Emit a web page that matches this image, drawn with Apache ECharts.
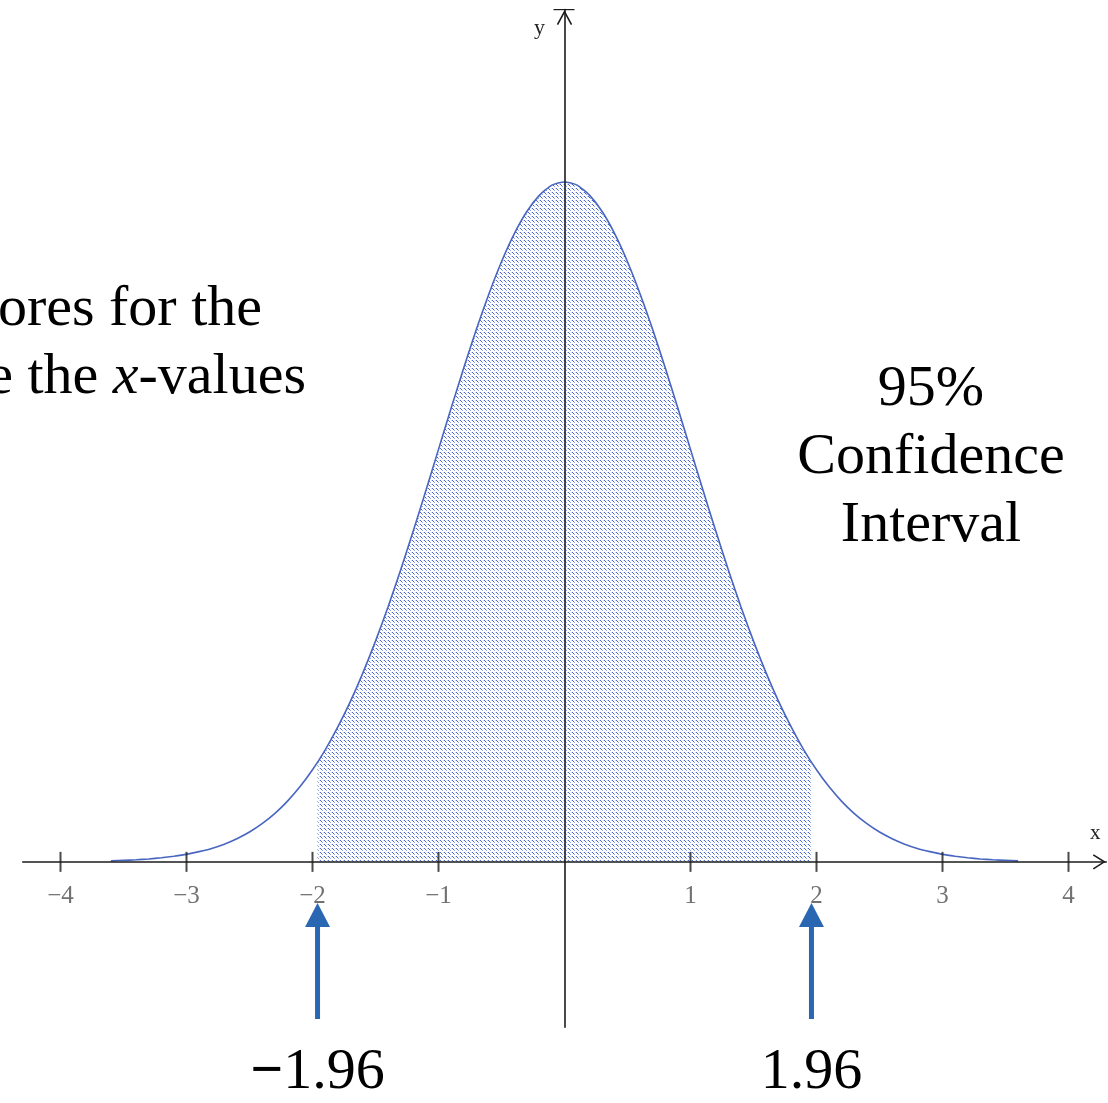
<!DOCTYPE html>
<html>
<head>
<meta charset="utf-8">
<script src="https://cdn.jsdelivr.net/npm/echarts@6/dist/echarts.min.js"></script>
<style>
  html, body { margin: 0; padding: 0; background: #ffffff; }
  #chart { width: 1108px; height: 1103px; }
</style>
</head>
<body>
<div id="chart"></div>
<script>
// Standard normal curve, z from -3.6 to 3.6
const zValues = [
  -3.6, -3.5, -3.4, -3.3, -3.2, -3.1, -3.0, -2.9, -2.8, -2.7, -2.6, -2.5,
  -2.4, -2.3, -2.2, -2.1, -2.0, -1.9, -1.8, -1.7, -1.6, -1.5, -1.4, -1.3,
  -1.2, -1.1, -1.0, -0.9, -0.8, -0.7, -0.6, -0.5, -0.4, -0.3, -0.2, -0.1,
  0.0,
  0.1, 0.2, 0.3, 0.4, 0.5, 0.6, 0.7, 0.8, 0.9, 1.0, 1.1, 1.2,
  1.3, 1.4, 1.5, 1.6, 1.7, 1.8, 1.9, 2.0, 2.1, 2.2, 2.3, 2.4,
  2.5, 2.6, 2.7, 2.8, 2.9, 3.0, 3.1, 3.2, 3.3, 3.4, 3.5, 3.6
];
const density = [
  0.0006, 0.0009, 0.0012, 0.0017, 0.0024, 0.0033, 0.0044, 0.0060, 0.0079, 0.0104, 0.0136, 0.0175,
  0.0224, 0.0283, 0.0355, 0.0440, 0.0540, 0.0656, 0.0790, 0.0940, 0.1109, 0.1295, 0.1497, 0.1714,
  0.1942, 0.2179, 0.2420, 0.2661, 0.2897, 0.3123, 0.3332, 0.3521, 0.3683, 0.3814, 0.3910, 0.3970,
  0.3989,
  0.3970, 0.3910, 0.3814, 0.3683, 0.3521, 0.3332, 0.3123, 0.2897, 0.2661, 0.2420, 0.2179, 0.1942,
  0.1714, 0.1497, 0.1295, 0.1109, 0.0940, 0.0790, 0.0656, 0.0540, 0.0440, 0.0355, 0.0283, 0.0224,
  0.0175, 0.0136, 0.0104, 0.0079, 0.0060, 0.0044, 0.0033, 0.0024, 0.0017, 0.0012, 0.0009, 0.0006
];

// 95% interval bounds and the curve height at those bounds
const ciBounds = [-1.96, 1.96];
const ciEdgeDensity = [0.0584, 0.0584];
const ciLabels = ['{m|\u2212}{n|1.96}', '{n|1.96}'];

// x-axis ticks
const tickValues = [-4, -3, -2, -1, 1, 2, 3, 4];
const tickLabels = ['\u22124', '\u22123', '\u22122', '\u22121', '1', '2', '3', '4'];

const curveData = zValues.map((z, i) => [z, density[i]]);
const shadeData = [[ciBounds[0], ciEdgeDensity[0]]]
  .concat(curveData.filter(p => p[0] > ciBounds[0] && p[0] < ciBounds[1]))
  .concat([[ciBounds[1], ciEdgeDensity[1]]]);

// dotted fill pattern
function makePattern() {
  const c = document.createElement('canvas');
  c.width = 4; c.height = 4;
  const ctx = c.getContext('2d');
  ctx.fillStyle = '#ffffff';
  ctx.fillRect(0, 0, 4, 4);
  ctx.fillStyle = 'rgba(60, 92, 200, 0.95)';
  ctx.fillRect(0, 0, 1, 1);
  ctx.fillRect(1, 1, 1, 1);
  ctx.fillStyle = 'rgba(60, 92, 200, 0.55)';
  ctx.fillRect(2, 2, 1, 1);
  ctx.fillStyle = 'rgba(60, 92, 200, 0.25)';
  ctx.fillRect(3, 0, 1, 1);
  return c;
}

const serif = '"Liberation Serif", "DejaVu Serif", serif';
const chart = echarts.init(document.getElementById('chart'), null, { renderer: 'canvas' });

const option = {
  animation: false,
  backgroundColor: '#ffffff',
  grid: { left: 22.7, right: 1.7, top: 9.6, bottom: 75.8, containLabel: false },
  xAxis: {
    type: 'value',
    min: -4.3,
    max: 4.3,
    z: 5,
    splitLine: { show: false },
    axisLine: { show: true, onZero: true, lineStyle: { color: '#1c1c1c', width: 1.6 } },
    axisTick: { show: false },
    axisLabel: { show: false }
  },
  yAxis: {
    type: 'value',
    min: -0.097,
    max: 0.5,
    z: 5,
    splitLine: { show: false },
    axisLine: { show: true, onZero: true, lineStyle: { color: '#1c1c1c', width: 1.6 } },
    axisTick: { show: false },
    axisLabel: { show: false }
  },
  series: [
    {
      name: 'interval',
      type: 'line',
      data: shadeData,
      smooth: 0.2,
      symbol: 'none',
      lineStyle: { width: 0 },
      areaStyle: { color: { image: makePattern(), repeat: 'repeat' }, opacity: 1 },
      z: 1
    },
    {
      name: 'density',
      type: 'line',
      data: curveData,
      smooth: 0.2,
      symbol: 'none',
      lineStyle: { color: '#4866c0', width: 1.6 },
      z: 3
    },
    {
      // tick marks crossing the x-axis, with their labels
      name: 'ticks',
      type: 'scatter',
      data: tickValues.map(v => [v, 0]),
      symbol: 'rect',
      symbolSize: [2, 20],
      itemStyle: { color: '#1c1c1c' },
      label: {
        show: true,
        position: 'bottom',
        distance: 12,
        fontFamily: serif,
        fontSize: 25,
        color: '#4e4e4e',
        formatter: p => tickLabels[p.dataIndex]
      },
      z: 6
    }
  ]
};
chart.setOption(option);

// annotations placed after the scales exist
const px = (x, y) => chart.convertToPixel({ gridIndex: 0 }, [x, y]);
const origin = px(0, 0);
const xEnd = px(4.3, 0);
const yTop = px(0, 0.5);
const arrowColor = '#2a67b2';
const big = '58px ' + serif;

const graphics = [
  // x-axis arrow head and name
  { type: 'polyline', z: 10, shape: { points: [[xEnd[0] - 13, origin[1] - 7], [xEnd[0] - 2, origin[1]], [xEnd[0] - 13, origin[1] + 7]] },
    style: { stroke: '#1c1c1c', lineWidth: 1.6, fill: null } },
  { type: 'text', z: 10, x: xEnd[0] - 11, y: origin[1] - 28,
    style: { text: 'x', font: '21px ' + serif, fill: '#222', textAlign: 'center', textVerticalAlign: 'middle' } },
  // y-axis arrow head, cap and name
  { type: 'polyline', z: 10, shape: { points: [[origin[0] - 7, yTop[1] + 15], [origin[0], yTop[1] + 2], [origin[0] + 7, yTop[1] + 15]] },
    style: { stroke: '#1c1c1c', lineWidth: 1.6, fill: null } },
  { type: 'line', z: 10, shape: { x1: origin[0] - 11, y1: yTop[1], x2: origin[0] + 10, y2: yTop[1] },
    style: { stroke: '#1c1c1c', lineWidth: 1.2 } },
  { type: 'text', z: 10, x: origin[0] - 25, y: yTop[1] + 19,
    style: { text: 'y', font: '22px ' + serif, fill: '#222', textAlign: 'center', textVerticalAlign: 'middle' } },
  // side notes
  { type: 'text', z: 10, x: 262, y: 310,
    style: { text: 'ores for the', font: big, fill: '#000', textAlign: 'right', textVerticalAlign: 'middle' } },
  { type: 'text', z: 10, x: 306, y: 378,
    style: {
      text: '{n|e the }{i|x}{n|-values}', textAlign: 'right', textVerticalAlign: 'middle',
      rich: {
        n: { font: big, fill: '#000' },
        i: { font: 'italic ' + big, fill: '#000' }
      }
    } },
  { type: 'text', z: 10, x: 931, y: 390,
    style: { text: '95%', font: big, fill: '#000', textAlign: 'center', textVerticalAlign: 'middle' } },
  { type: 'text', z: 10, x: 931, y: 458,
    style: { text: 'Confidence', font: big, fill: '#000', textAlign: 'center', textVerticalAlign: 'middle' } },
  { type: 'text', z: 10, x: 931, y: 526,
    style: { text: 'Interval', font: big, fill: '#000', textAlign: 'center', textVerticalAlign: 'middle' } }
];

// arrows pointing at the interval bounds, with their labels
ciBounds.forEach((b, i) => {
  const ax = px(b, 0)[0];
  graphics.push({ type: 'line', z: 10, shape: { x1: ax, y1: 1019, x2: ax, y2: 924 },
    style: { stroke: arrowColor, lineWidth: 5 } });
  graphics.push({ type: 'polygon', z: 10, shape: { points: [[ax - 12.5, 927], [ax, 903], [ax + 12.5, 927]] },
    style: { fill: arrowColor } });
  graphics.push({ type: 'text', z: 10, x: ax, y: 1073,
    style: {
      text: ciLabels[i], textAlign: 'center', textVerticalAlign: 'middle',
      rich: {
        m: { font: 'bold ' + big, fill: '#000' },
        n: { font: big, fill: '#000' }
      }
    } });
});

chart.setOption({ graphic: graphics });
</script>
</body>
</html>
